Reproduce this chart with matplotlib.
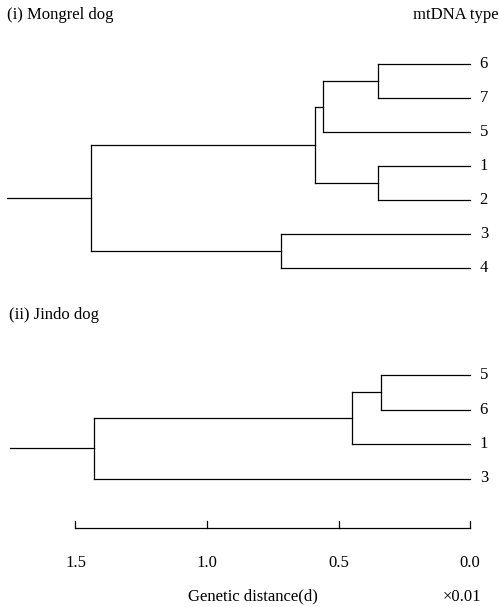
import matplotlib.pyplot as plt

plt.rcParams['font.family'] = ['Liberation Serif', 'DejaVu Serif']

# (i) Mongrel dog: leaves top to bottom, then merges (left, right, height)
mongrel_leaves = ['6', '7', '5', '1', '2', '3', '4']
mongrel_merges = [('6', '7', 0.35), ('67', '5', 0.56), ('1', '2', 0.35),
                  ('675', '12', 0.59), ('3', '4', 0.72), ('67512', '34', 1.44)]
mongrel_root_stub = 1.76

# (ii) Jindo dog
jindo_leaves = ['5', '6', '1', '3']
jindo_merges = [('5', '6', 0.34), ('56', '1', 0.45), ('561', '3', 1.43)]
jindo_root_stub = 1.75

scale_ticks = [1.5, 1.0, 0.5, 0.0]
scale_labels = ['1.5', '1.0', '0.5', '0.0']

fig = plt.figure(figsize=(5.0, 6.07), dpi=100)
ax = fig.add_axes([0, 0, 1, 1])
ax.set_xlim(1.787, -0.114)
ax.set_ylim(607, 0)
ax.axis('off')

lw = 0.9
fs = 12


def draw_tree(leaves, merges, stub, top, step):
    pos = {}
    for i, name in enumerate(leaves):
        pos[name] = (0.0, top + i * step)
        ax.annotate(name, (0.0, top + i * step), xytext=(7, 0),
                    textcoords='offset points', ha='left', va='center',
                    fontsize=fs)
    for a, b, h in merges:
        xa, ya = pos[a]
        xb, yb = pos[b]
        ax.plot([xa, h], [ya, ya], color='black', lw=lw)
        ax.plot([xb, h], [yb, yb], color='black', lw=lw)
        ax.plot([h, h], [ya, yb], color='black', lw=lw)
        pos[a + b] = (h, (ya + yb) / 2)
    rx, ry = pos[merges[-1][0] + merges[-1][1]]
    ax.plot([stub, rx], [ry, ry], color='black', lw=lw)


draw_tree(mongrel_leaves, mongrel_merges, mongrel_root_stub, 64, 34)
draw_tree(jindo_leaves, jindo_merges, jindo_root_stub, 375, 34.5)

ax.text(0.014, 0.975, '(i) Mongrel dog', transform=ax.transAxes,
        ha='left', va='center', fontsize=fs)
ax.text(0.998, 0.975, 'mtDNA type', transform=ax.transAxes,
        ha='right', va='center', fontsize=fs)
ax.text(0.018, 0.481, '(ii) Jindo dog', transform=ax.transAxes,
        ha='left', va='center', fontsize=fs)

# scale bar
ax.plot([scale_ticks[0], scale_ticks[-1]], [528, 528], color='black', lw=lw)
for t, lab in zip(scale_ticks, scale_labels):
    ax.plot([t, t], [528, 521], color='black', lw=lw)
    ax.text(t, 563, lab, ha='center', va='center', fontsize=fs)

ax.text(0.506, 0.017, 'Genetic distance(d)', transform=ax.transAxes,
        ha='center', va='center', fontsize=fs)
ax.text(0.924, 0.017, '×0.01', transform=ax.transAxes,
        ha='center', va='center', fontsize=fs)

fig.savefig('out.png', dpi=100)
